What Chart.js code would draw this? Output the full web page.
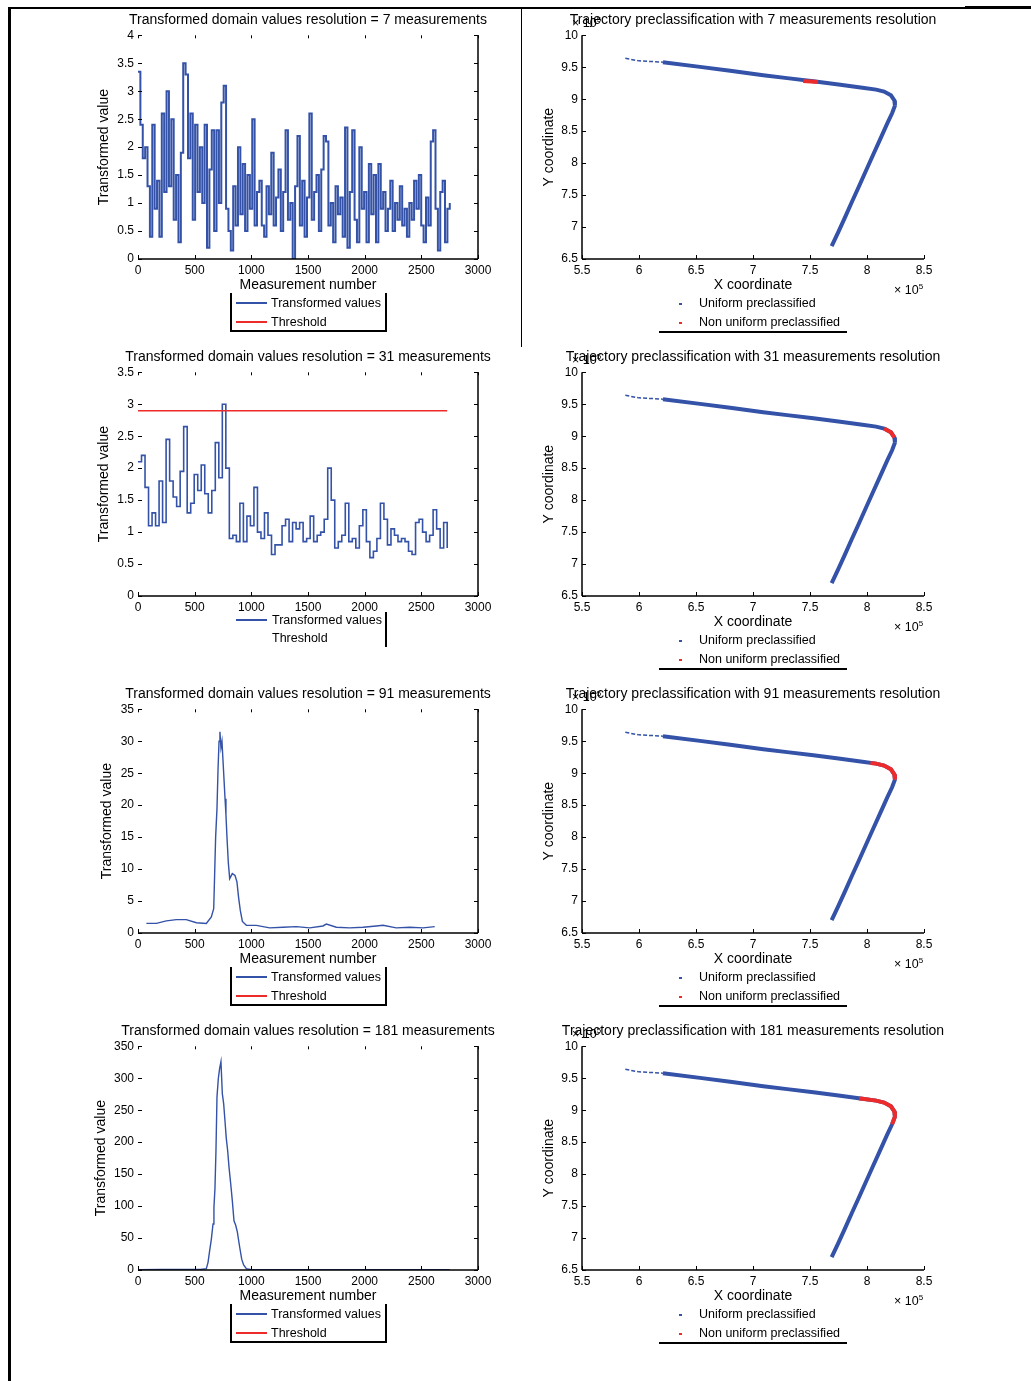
<!DOCTYPE html>
<html>
<head>
<meta charset="utf-8">
<title>Transformed domain values</title>
<script src="https://cdn.jsdelivr.net/npm/chart.js@4.4.1/dist/chart.umd.min.js"></script>
<style>
  body { margin:0; background:#fff; }
  #hoja { position:relative; width:1031px; height:1381px; overflow:hidden; font-family:"Liberation Sans", Arial, sans-serif; color:#000; }
  canvas { position:absolute; }
  .linea { position:absolute; background:#000; }
  .ley { position:absolute; font-size:12.5px; line-height:14px; white-space:nowrap; }
  .exp { position:absolute; font-size:12.5px; white-space:nowrap; }
</style>
</head>
<body>
<div id="hoja">
  <!-- marco de la pagina -->
  <div class="linea" style="left:8px;top:7px;width:3px;height:1374px"></div>
  <div class="linea" style="left:8px;top:7px;width:957px;height:2px"></div>
  <div class="linea" style="left:965px;top:6px;width:66px;height:3px"></div>
  <div class="linea" style="left:521px;top:8px;width:1px;height:339px"></div>
</div>
<script>
// ---- datos ----
// resolucion 7: un valor cada 21 mediciones
const paso7 = 21
const valores7 = [3.35, 2.4, 1.8, 2.0, 1.3, 0.4, 2.4, 0.9, 1.4, 0.4, 2.6, 1.2, 3.0, 1.3, 2.5, 0.7, 1.5, 0.3, 1.9, 3.5,
  3.3, 1.8, 2.6, 0.7, 2.4, 1.2, 2.0, 1.0, 2.4, 0.2, 1.6, 2.3, 0.5, 2.3, 1.0, 2.8, 3.1, 0.9, 0.5, 0.15,
  1.3, 0.6, 2.0, 0.8, 1.7, 0.5, 1.5, 0.9, 2.5, 0.6, 1.2, 1.4, 0.6, 0.4, 1.3, 0.8, 1.9, 0.6, 1.1, 1.6,
  0.5, 1.2, 2.3, 0.7, 1.0, 0.0, 1.3, 2.2, 0.6, 1.4, 0.4, 1.1, 2.6, 0.7, 1.2, 1.5, 0.5, 1.6, 2.2, 2.1,
  0.6, 1.0, 0.3, 1.3, 0.8, 1.1, 0.4, 2.35, 0.2, 1.2, 2.3, 0.7, 0.3, 2.0, 0.9, 1.2, 0.3, 1.7, 0.8, 1.5,
  0.3, 1.7, 0.9, 1.2, 0.5, 0.9, 1.4, 0.5, 1.0, 0.7, 1.3, 0.6, 0.9, 0.4, 1.0, 0.7, 1.4, 0.9, 1.5, 0.6,
  0.3, 1.1, 0.6, 2.1, 2.3, 0.9, 0.15, 1.2, 1.4, 0.3, 0.9, 1.0]

// resolucion 31: un valor cada 31 mediciones
const paso31 = 31
const valores31 = [2.1, 2.2, 1.7, 1.1, 1.3, 1.1, 1.8, 1.15, 2.45, 1.8, 1.55, 1.4, 1.95, 2.65, 1.3, 1.45, 1.9, 1.65, 2.05, 1.6,
  1.3, 1.65, 2.4, 1.85, 3.0, 2.0, 0.9, 0.95, 0.85, 1.45, 0.85, 1.25, 1.1, 1.7, 1.0, 0.9, 1.3, 0.95, 0.65, 0.8,
  0.8, 1.1, 1.2, 0.85, 1.15, 1.05, 1.15, 0.85, 0.9, 1.25, 0.85, 0.95, 1.0, 1.2, 2.0, 1.5, 0.75, 0.85, 0.95, 1.45,
  0.85, 0.9, 0.75, 1.1, 1.35, 0.85, 0.6, 0.7, 0.9, 1.45, 1.2, 0.8, 1.05, 0.95, 0.85, 0.9, 0.85, 0.7, 0.65, 1.15,
  1.2, 1.0, 0.85, 0.95, 1.35, 1.05, 0.75, 1.15, 0.75]
const umbral31 = 2.9
const umbralDesde = 0
const umbralHasta = 2728

// resolucion 91
const medidas91 = [74, 162, 250, 338, 426, 515, 603, 647, 668, 676, 685, 697, 706, 715, 723, 732, 741, 750, 759, 768,
  776, 785, 797, 809, 832, 856, 873, 888, 903, 921, 956, 1044, 1162, 1279, 1397, 1515, 1632, 1662, 1750, 1868,
  1985, 2103, 2162, 2279, 2397, 2515, 2618]
const valores91 = [1.5, 1.5, 1.9, 2.1, 2.1, 1.6, 1.5, 2.5, 3.8, 9, 15, 19.5, 25.5, 30, 31.5, 29, 30, 27, 24, 21,
  18.5, 15, 11, 8.5, 9.3, 9, 8, 5.5, 3.5, 1.8, 1.2, 1.2, 0.8, 0.9, 1.0, 0.8, 1.1, 1.4, 0.9, 0.8,
  0.9, 1.1, 1.2, 0.8, 0.9, 0.8, 1.0]

// resolucion 181
const medidas181 = [0, 200, 400, 550, 603, 618, 632, 647, 662, 670, 679, 688, 697, 709, 720, 732, 744, 756, 768, 779,
  791, 803, 818, 832, 847, 862, 876, 897, 915, 932, 956, 1000, 1500, 2000, 2500, 2750]
const valores181 = [0.6, 0.8, 0.8, 0.8, 2, 12, 30, 48, 72, 98, 127, 187, 271, 300, 315, 326, 276, 260, 232, 206,
  187, 161, 135, 109, 77, 70, 60, 36, 17, 8, 2, 0.6, 0.5, 0.5, 0.5, 0.5]

// trayectoria (metros)
const trayX = [588000, 600000, 621000, 653500, 680000, 709000, 730000, 753000, 775000, 796000,
  808000, 815000, 821000, 824000, 824500, 822000, 818000, 811700, 804600, 798300,
  792800, 786900, 780900, 774800, 769000]
const trayY = [964000, 960000, 958000, 950600, 944500, 937500, 933000, 928000, 923000, 918000,
  915000, 912000, 906000, 898000, 890000, 878000, 863000, 838000, 810000, 785000,
  763000, 740000, 716000, 692000, 670000]

// tramos no uniformes de cada resolucion
const rojoX = [
  [744000, 751000, 757000],
  [815000, 821000, 824000],
  [803000, 808000, 815000, 821000, 824000, 824500],
  [793000, 796000, 808000, 815000, 821000, 824000, 824500, 822000]
]
const rojoY = [
  [928300, 927600, 926800],
  [912000, 906000, 898000],
  [916000, 915000, 912000, 906000, 898000, 890000],
  [918500, 918000, 915000, 912000, 906000, 898000, 890000, 878000]
]

const resoluciones = [7, 31, 91, 181]

const AZUL = '#3352a8'
const ROJO = '#ee2b2b'
const FUENTE = '"Liberation Sans", Arial, sans-serif'

const hoja = document.getElementById('hoja')

function nuevoCanvas(id, x, y, w, h) {
  const c = document.createElement('canvas')
  c.id = id
  c.width = w
  c.height = h
  c.style.left = x + 'px'
  c.style.top = y + 'px'
  c.style.width = w + 'px'
  c.style.height = h + 'px'
  hoja.appendChild(c)
  return c
}

function agregar(html, clase, x, y, extra) {
  const d = document.createElement('div')
  d.className = clase
  d.style.left = x + 'px'
  d.style.top = y + 'px'
  if (extra) d.style.cssText += extra
  d.innerHTML = html
  hoja.appendChild(d)
  return d
}

function pares(xs, ys) {
  return xs.map((x, i) => ({x: x, y: ys[i]}))
}

// ejes estilo matlab: lineas y marcas hacia adentro
const ejes = {
  id: 'ejes',
  afterDatasetsDraw(chart, args, op) {
    const ctx = chart.ctx
    const a = chart.chartArea
    const x = chart.scales.x
    const y = chart.scales.y
    const completo = op.lado === 'der'
    ctx.save()
    ctx.strokeStyle = '#000'
    ctx.lineWidth = 1.5
    ctx.beginPath()
    ctx.moveTo(a.left, a.bottom)
    ctx.lineTo(a.right, a.bottom)
    if (completo) {
      ctx.moveTo(a.right, a.bottom)
      ctx.lineTo(a.right, a.top)
    } else {
      ctx.moveTo(a.left, a.bottom)
      ctx.lineTo(a.left, a.top)
    }
    ctx.stroke()
    ctx.lineWidth = 1
    ctx.beginPath()
    x.ticks.forEach(t => {
      const px = Math.round(x.getPixelForValue(t.value)) + 0.5
      ctx.moveTo(px, a.bottom); ctx.lineTo(px, a.bottom - 4)
      if (completo) { ctx.moveTo(px, a.top); ctx.lineTo(px, a.top + 3) }
    })
    y.ticks.forEach(t => {
      const py = Math.round(y.getPixelForValue(t.value)) + 0.5
      ctx.moveTo(a.left, py); ctx.lineTo(a.left + 4, py)
      if (completo) { ctx.moveTo(a.right, py); ctx.lineTo(a.right - 4, py) }
    })
    ctx.stroke()
    ctx.restore()
  }
}

const fTick = {family: FUENTE, size: 12}
const fTitulo = {family: FUENTE, size: 14, weight: 'normal'}

function escala(min, max, paso, ancho, titulo, padTitulo, formato) {
  return {
    type: 'linear', min: min, max: max,
    grid: {display: false, drawTicks: false},
    border: {display: false},
    ticks: {stepSize: paso, autoSkip: false, maxRotation: 0, padding: 4, color: '#000', font: fTick, callback: formato},
    title: {display: !!titulo, text: titulo || '', color: '#000', font: fTitulo, padding: padTitulo},
    afterFit: s => { if (ancho.w) s.width = ancho.w; if (ancho.h) s.height = ancho.h }
  }
}

// eje vacio a la derecha: deja el mismo margen que el eje izquierdo y el titulo queda centrado
function margenDerecho(ancho) {
  return {
    type: 'linear', position: 'right', min: 0, max: 1, display: true,
    grid: {display: false, drawTicks: false},
    border: {display: false},
    ticks: {display: false},
    afterFit: s => { s.width = ancho }
  }
}

function graficoIzq(fila, conjuntos, yMax, yPaso, conTituloX, padY) {
  const top = 5 + 337 * fila
  const c = nuevoCanvas('izq' + fila, 85, top, 446, 290)
  return new Chart(c, {
    type: 'line',
    data: {datasets: conjuntos},
    options: {
      responsive: false, animation: false, devicePixelRatio: 1,
      plugins: {
        legend: {display: false},
        tooltip: {enabled: false},
        title: {display: true, text: 'Transformed domain values resolution = ' + resoluciones[fila] + ' measurements',
          color: '#000', font: fTitulo, padding: {top: 7, bottom: 6.5}},
        ejes: {lado: 'der'}
      },
      scales: {
        x: escala(0, 3000, 500, {h: 36}, conTituloX ? 'Measurement number' : '', {top: 0, bottom: 1.5}, v => v),
        y: escala(0, yMax, yPaso, {w: 53}, 'Transformed value', {top: padY, bottom: 0}, v => v),
        margen: margenDerecho(53)
      }
    },
    plugins: [ejes]
  })
}

function graficoDer(fila) {
  const top = 5 + 337 * fila
  const c = nuevoCanvas('der' + fila, 525, top, 456, 290)
  const fmt = v => +(v / 1e5).toFixed(1)
  return new Chart(c, {
    type: 'scatter',
    data: {datasets: [
      {label: 'Non uniform preclassified', data: pares(rojoX[fila], rojoY[fila]), showLine: true,
        borderColor: ROJO, borderWidth: 4, pointRadius: 0},
      {label: 'Uniform preclassified', data: pares(trayX, trayY), showLine: true,
        borderColor: AZUL, borderWidth: 4, pointRadius: 0,
        segment: {borderWidth: ctx => ctx.p0DataIndex < 2 ? 1.5 : 4, borderDash: ctx => ctx.p0DataIndex < 2 ? [4, 2] : undefined}}
    ]},
    options: {
      responsive: false, animation: false, devicePixelRatio: 1,
      plugins: {
        legend: {display: false},
        tooltip: {enabled: false},
        title: {display: true, text: 'Trajectory preclassification with ' + resoluciones[fila] + ' measurements resolution',
          color: '#000', font: fTitulo, padding: {top: 7, bottom: 6.5}},
        ejes: {lado: 'izq'}
      },
      scales: {
        x: escala(550000, 850000, 50000, {h: 36}, 'X coordinate', {top: 0, bottom: 1.5}, fmt),
        y: escala(650000, 1000000, 50000, {w: 57}, 'Y coordinate', {top: 15.5, bottom: 0}, fmt),
        margen: margenDerecho(57)
      }
    },
    plugins: [ejes]
  })
}

// ---- graficos de la izquierda ----
graficoIzq(0, [
  {data: pares(valores7.map((v, i) => i * paso7), valores7), borderColor: AZUL, borderWidth: 2, pointRadius: 0, stepped: true}
], 4, 0.5, true, 10.5)

graficoIzq(1, [
  {data: pares([umbralDesde, umbralHasta], [umbral31, umbral31]), borderColor: ROJO, borderWidth: 1.5, pointRadius: 0},
  {data: pares(valores31.map((v, i) => i * paso31), valores31), borderColor: AZUL, borderWidth: 1.6, pointRadius: 0, stepped: true}
], 3.5, 0.5, false, 10.5)

graficoIzq(2, [
  {data: pares(medidas91, valores91), borderColor: AZUL, borderWidth: 1.4, pointRadius: 0}
], 35, 5, true, 13.5)

graficoIzq(3, [
  {data: pares(medidas181, valores181), borderColor: AZUL, borderWidth: 1.4, pointRadius: 0}
], 350, 50, true, 7.5)

// ---- graficos de la derecha ----
for (let f = 0; f < 4; f++) graficoDer(f)

// ---- leyendas ----
function leyendaIzq(fila) {
  const dy = 337 * fila
  agregar('', 'linea', 230, 293 + dy, 'width:2px;height:39px')
  agregar('', 'linea', 385, 293 + dy, 'width:2px;height:39px')
  agregar('', 'linea', 230, 330 + dy, 'width:157px;height:2px')
  agregar('', 'linea', 236, 302 + dy, 'width:31px;height:2px;background:' + AZUL)
  agregar('Transformed values', 'ley', 271, 296 + dy)
  agregar('', 'linea', 236, 321 + dy, 'width:31px;height:2px;background:' + ROJO)
  agregar('Threshold', 'ley', 271, 315 + dy)
}
leyendaIzq(0)
leyendaIzq(2)
leyendaIzq(3)

agregar('', 'linea', 385, 612, 'width:2px;height:35px')
agregar('', 'linea', 236, 619, 'width:31px;height:2px;background:' + AZUL)
agregar('Transformed values', 'ley', 272, 613)
agregar('Threshold', 'ley', 272, 631)

function leyendaDer(fila) {
  const dy = 337 * fila
  agregar('', 'linea', 679, 303 + dy, 'width:3px;height:2px;background:' + AZUL)
  agregar('Uniform preclassified', 'ley', 699, 296 + dy)
  agregar('', 'linea', 679, 322 + dy, 'width:3px;height:2px;background:' + ROJO)
  agregar('Non uniform preclassified', 'ley', 699, 315 + dy)
  agregar('', 'linea', 659, 331 + dy, 'width:188px;height:2px')
  agregar('× 10<sup style="font-size:8px">5</sup>', 'exp', 894, 282 + dy)
  agregar('× 10<sup style="font-size:8px">5</sup>', 'exp', 572, 15 + dy)
}
for (let f = 0; f < 4; f++) leyendaDer(f)
</script>
</body>
</html>
